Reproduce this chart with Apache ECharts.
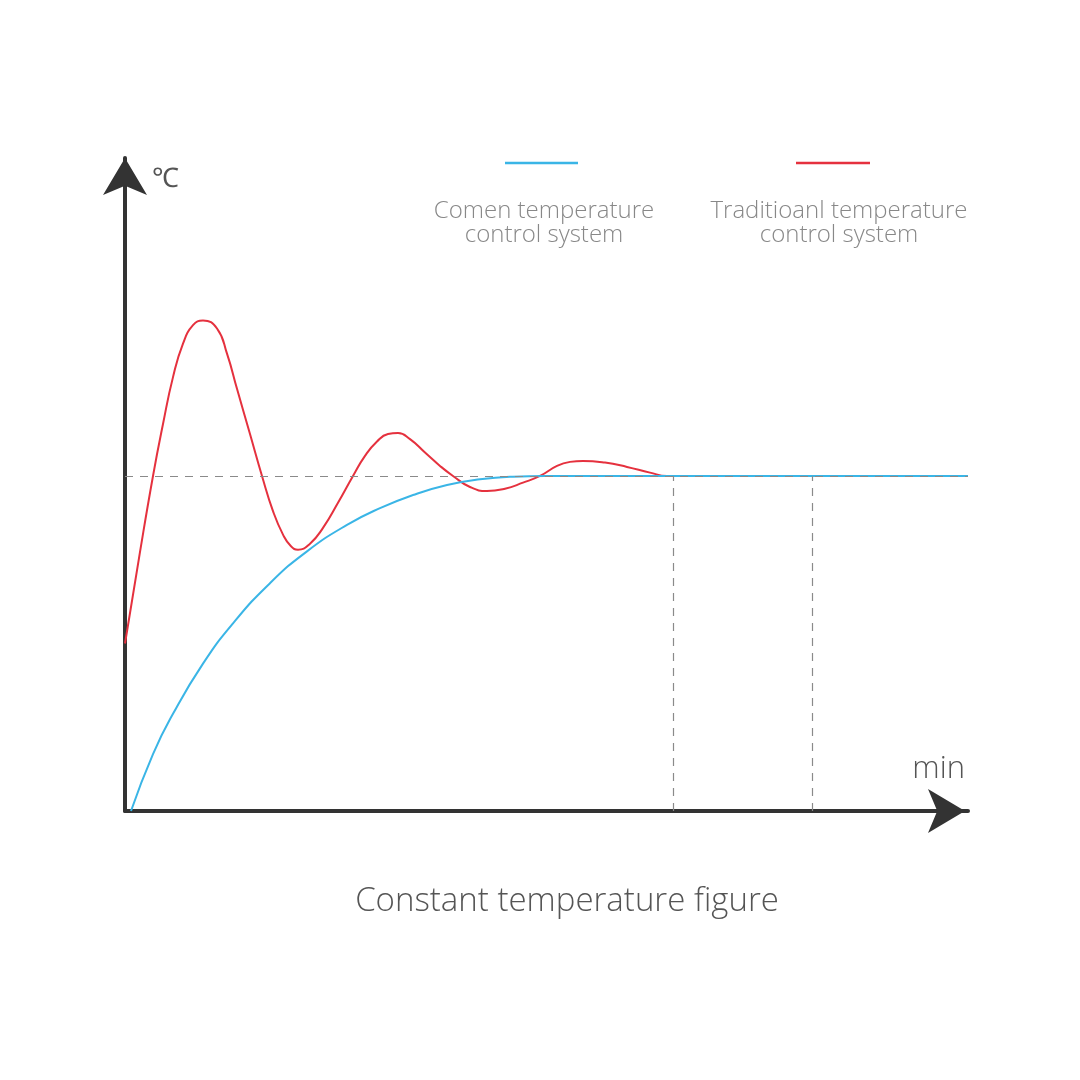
<!DOCTYPE html>
<html>
<head>
<meta charset="utf-8">
<script src="https://cdn.jsdelivr.net/npm/echarts@6/dist/echarts.min.js"></script>
<style>
  html, body { margin: 0; padding: 0; background: #fff; }
  #graph { width: 1080px; height: 1080px; }
</style>
</head>
<body>
<div id="graph"></div>
<script>
// data (x: minutes, y: temperature, setpoint = 100)
var comenPoints = [[0.6, 0], [2.8, 17], [4.8, 29], [7.8, 44], [10.8, 56], [14.5, 68], [18.2, 77.5],
  [22.2, 85.4], [25.5, 90.4], [28.8, 94.3], [32.2, 97.3], [35.5, 99], [38.8, 99.8], [42, 100],
  [54, 100], [84.3, 100]];
var traditionalPoints = [[0, 50], [1.4, 75.5], [2.8, 100], [3.8, 115.5], [4.8, 129.5], [5.8, 139.5],
  [6.8, 145], [7.8, 146.4], [9.2, 144], [10.2, 136.5], [11.2, 126], [12.5, 112.5], [13.7, 100],
  [14.8, 89.5], [15.8, 82.5], [16.6, 79], [17.3, 78], [18.5, 79.8], [19.8, 84.5], [21.3, 92],
  [22.8, 100], [24, 106], [25.2, 110.3], [26.3, 112.5], [27.3, 112.8], [28.5, 111], [30, 107],
  [31.5, 103], [32.8, 100], [34.5, 96.7], [36.2, 95.5], [38, 96.2], [39.8, 98], [41.5, 100],
  [43.2, 103], [44.5, 104.2], [45.8, 104.5], [48, 104], [50.2, 102.7], [52.5, 101], [54.2, 100],
  [60, 100], [84.3, 100]];
var setpoint = 100;
var markTimes = [54.8, 68.7];
var seriesNames = ['Comen temperature\ncontrol system', 'Traditioanl temperature\ncontrol system'];

var colors = ['#3ab5e6', '#e5313e'];
var font = 'Open Sans';

var dom = document.getElementById('graph');
var myChart = echarts.init(dom);

var guideLines = [[{ coord: [0, setpoint] }, { coord: [84.3, setpoint] }]];
markTimes.forEach(function (t) {
  guideLines.push([{ coord: [t, 0] }, { coord: [t, setpoint] }]);
});

var option = {
  animation: false,
  backgroundColor: '#fff',
  title: {
    text: 'Constant temperature figure',
    left: 562,
    top: 880,
    textAlign: 'center',
    textStyle: { fontFamily: font, fontSize: 33, fontWeight: 300, color: '#555' }
  },
  grid: { left: 125, right: 112, top: 158, bottom: 269 },
  xAxis: {
    type: 'value',
    min: 0,
    max: 84.3,
    name: 'min',
    nameLocation: 'end',
    nameGap: -3,
    nameTextStyle: {
      fontFamily: font, fontSize: 31, fontWeight: 300, color: '#555',
      align: 'right', verticalAlign: 'bottom', padding: [0, 0, 26, 0]
    },
    axisLine: {
      lineStyle: { color: '#333', width: 4 },
      symbol: ['none', 'arrow'],
      symbolSize: [33, 37],
      symbolOffset: [0, -3]
    },
    axisTick: { show: false },
    axisLabel: { show: false },
    splitLine: { show: false }
  },
  yAxis: {
    type: 'value',
    min: 0,
    max: 194.9,
    name: '℃',
    nameLocation: 'end',
    nameGap: -35,
    nameTextStyle: {
      fontFamily: font, fontSize: 27, fontWeight: 300, color: '#555',
      align: 'left', verticalAlign: 'bottom', padding: [0, 0, 0, 27]
    },
    axisLine: {
      show: true,
      lineStyle: { color: '#333', width: 4 },
      symbol: ['none', 'arrow'],
      symbolSize: [33, 37],
      symbolOffset: [0, 0]
    },
    axisTick: { show: false },
    axisLabel: { show: false },
    splitLine: { show: false }
  },
  series: [
    {
      name: seriesNames[1],
      type: 'line',
      data: traditionalPoints,
      smooth: 0.5,
      showSymbol: false,
      lineStyle: { color: colors[1], width: 2 },
      markLine: {
        silent: true,
        symbol: 'none',
        label: { show: false },
        lineStyle: { color: '#8a8a8a', width: 1.2, type: [8, 7] },
        data: guideLines
      },
      z: 3
    },
    {
      name: seriesNames[0],
      type: 'line',
      data: comenPoints,
      smooth: 0.5,
      showSymbol: false,
      lineStyle: { color: colors[0], width: 2 },
      z: 4
    }
  ],
  graphic: [
    { type: 'line', shape: { x1: 505, y1: 163, x2: 578, y2: 163 }, style: { stroke: colors[0], lineWidth: 2.5 } },
    { type: 'line', shape: { x1: 796, y1: 163, x2: 870, y2: 163 }, style: { stroke: colors[1], lineWidth: 2.5 } },
    {
      type: 'text', x: 544, y: 199,
      style: {
        text: seriesNames[0], fill: '#888', font: '300 24px ' + font,
        textAlign: 'center', lineHeight: 24
      }
    },
    {
      type: 'text', x: 839, y: 199,
      style: {
        text: seriesNames[1], fill: '#888', font: '300 24px ' + font,
        textAlign: 'center', lineHeight: 24
      }
    }
  ]
};

myChart.setOption(option, true);
</script>
</body>
</html>
